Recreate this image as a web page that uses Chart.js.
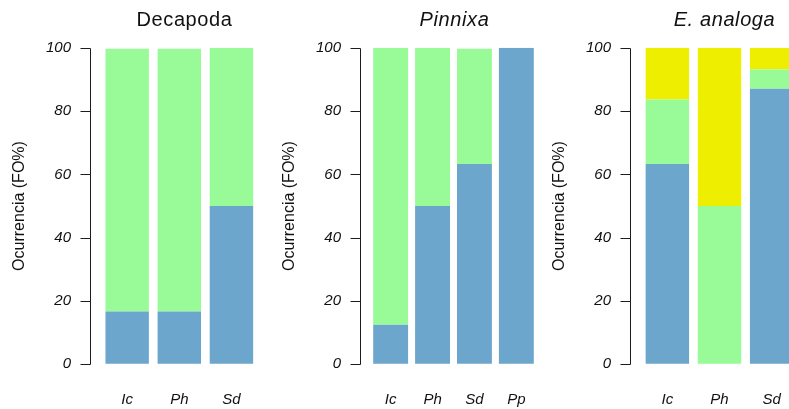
<!DOCTYPE html>
<html>
<head>
<meta charset="utf-8">
<script src="https://cdn.jsdelivr.net/npm/chart.js@4.4.1/dist/chart.umd.min.js"></script>
<style>
  html, body { margin: 0; padding: 0; background: #fff; width: 789px; height: 409px; overflow: hidden; }
  .panel { position: absolute; top: 0; width: 270px; height: 409px; }
  .panel canvas { display: block; }
</style>
</head>
<body>
<div class="panel" style="left:0px"><canvas id="decapoda" width="270" height="409"></canvas></div>
<div class="panel" style="left:270px"><canvas id="pinnixa" width="270" height="409"></canvas></div>
<div class="panel" style="left:540px"><canvas id="analoga" width="270" height="409"></canvas></div>
<script>
// Frequency of occurrence (FO%) per site, stacked by category
const decapodaCategories = ['Ic', 'Ph', 'Sd'];
const decapodaBlue  = [16.7, 16.7, 50];
const decapodaGreen = [83, 83, 50];

const pinnixaCategories = ['Ic', 'Ph', 'Sd', 'Pp'];
const pinnixaBlue  = [12.5, 50, 63.3, 100];
const pinnixaGreen = [87.5, 50, 36.4, 0];

const analogaCategories = ['Ic', 'Ph', 'Sd'];
const analogaBlue   = [63.3, 0, 87];
const analogaGreen  = [20.3, 50, 6.1];
const analogaYellow = [16.4, 50, 6.9];

const yTickValues = [0, 20, 40, 60, 80, 100];
const yAxisTitle = 'Ocurrencia (FO%)';

const BLUE = '#6CA6CD';
const GREEN = '#98FB98';
const YELLOW = '#EEEE00';
const FONT = "'Liberation Sans', Arial, Helvetica, sans-serif";
const INK = '#111';
const CLEAR = 'rgba(0,0,0,0)';

// Draws the detached y axis line with outward ticks, plus the panel heading
const panelAxis = {
  id: 'panelAxis',
  afterDraw(chart, args, opts) {
    const { ctx, chartArea } = chart;
    const y = chart.scales.y;
    const ax = Math.round(chartArea.left - opts.gap) + 0.5;
    ctx.save();
    ctx.strokeStyle = '#1c1c1c';
    ctx.lineWidth = 1;
    ctx.beginPath();
    const yTop = y.getPixelForValue(yTickValues[yTickValues.length - 1]);
    const yBot = y.getPixelForValue(yTickValues[0]);
    ctx.moveTo(ax, Math.round(yTop) + 0.5);
    ctx.lineTo(ax, Math.round(yBot) + 0.5);
    for (const v of yTickValues) {
      const py = Math.round(y.getPixelForValue(v)) + 0.5;
      ctx.moveTo(ax - opts.tickLength, py);
      ctx.lineTo(ax, py);
    }
    ctx.stroke();

    ctx.fillStyle = INK;
    ctx.font = (opts.italic ? 'italic ' : '') + '20px ' + FONT;
    ctx.textAlign = 'center';
    ctx.textBaseline = 'alphabetic';
    if ('letterSpacing' in ctx) ctx.letterSpacing = '0.6px';
    ctx.fillText(opts.title, ax + opts.titleShift, 26);
    ctx.restore();
  }
};

function makePanel(canvasId, categories, series, opts) {
  const W = 270, H = 409;
  const plotTop = 47.7, plotBottom = 364.3;
  return new Chart(document.getElementById(canvasId), {
    type: 'bar',
    data: {
      labels: categories,
      datasets: series.map(s => ({
        data: s.values,
        backgroundColor: s.color,
        borderWidth: 0,
        categoryPercentage: 0.833,
        barPercentage: 1
      }))
    },
    plugins: [panelAxis],
    options: {
      responsive: false,
      animation: false,
      events: [],
      layout: { padding: { top: plotTop, left: 0, right: W - opts.plotRight, bottom: 0 } },
      plugins: {
        legend: { display: false },
        tooltip: { enabled: false },
        title: { display: false },
        panelAxis: {
          gap: opts.plotLeft - 90,
          tickLength: 10,
          title: opts.title,
          italic: opts.italic,
          titleShift: 94
        }
      },
      scales: {
        x: {
          stacked: true,
          // invisible tick marks keep the labels at a set distance below the bars
          grid: { display: true, drawOnChartArea: false, drawTicks: true, tickLength: 27, color: CLEAR },
          border: { display: false },
          ticks: {
            color: INK,
            padding: 0,
            font: { family: FONT, size: 15, style: 'italic' }
          },
          afterFit(scale) { scale.height = H - plotBottom; }
        },
        y: {
          stacked: true,
          min: 0,
          max: 100,
          grid: { display: true, drawOnChartArea: false, drawTicks: true, tickLength: opts.plotLeft - 71, color: CLEAR },
          border: { display: false },
          afterBuildTicks(scale) { scale.ticks = yTickValues.map(v => ({ value: v })); },
          ticks: {
            autoSkip: false,
            color: INK,
            padding: 0,
            font: { family: FONT, size: 15, style: 'italic' }
          },
          title: {
            display: true,
            text: yAxisTitle,
            color: INK,
            font: { family: FONT, size: 16 },
            padding: { top: 9.5, bottom: 0 }
          },
          afterFit(scale) { scale.width = opts.plotLeft; }
        }
      }
    }
  });
}

makePanel('decapoda', decapodaCategories, [
  { values: decapodaBlue, color: BLUE },
  { values: decapodaGreen, color: GREEN }
], { plotLeft: 101.1, plotRight: 257.5, title: 'Decapoda', italic: false });

makePanel('pinnixa', pinnixaCategories, [
  { values: pinnixaBlue, color: BLUE },
  { values: pinnixaGreen, color: GREEN }
], { plotLeft: 99.7, plotRight: 267.3, title: 'Pinnixa', italic: true });

makePanel('analoga', analogaCategories, [
  { values: analogaBlue, color: BLUE },
  { values: analogaGreen, color: GREEN },
  { values: analogaYellow, color: YELLOW }
], { plotLeft: 101.3, plotRight: 257.7, title: 'E. analoga', italic: true });
</script>
</body>
</html>
